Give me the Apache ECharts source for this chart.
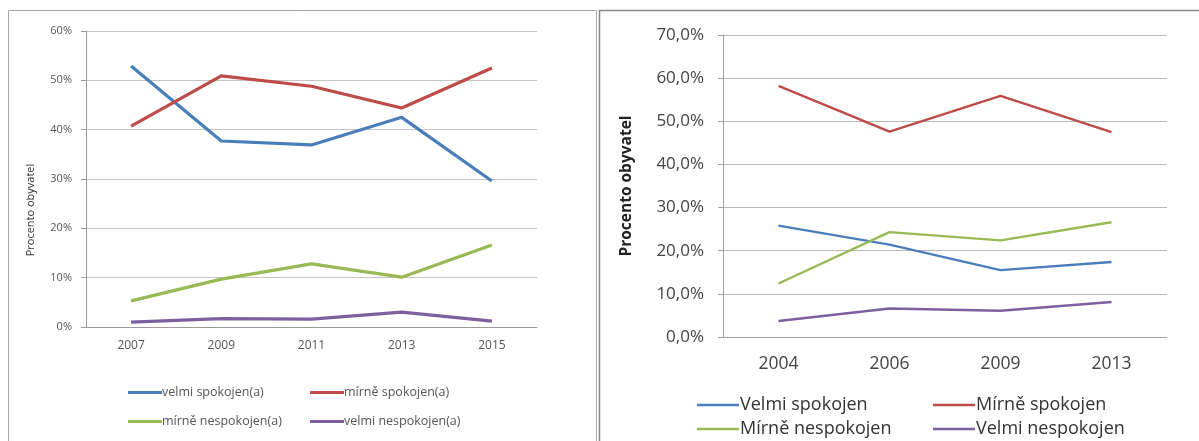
<!DOCTYPE html>
<html><head><meta charset="utf-8">
<script src="https://cdn.jsdelivr.net/npm/echarts@6/dist/echarts.min.js"></script>
<style>html,body{margin:0;padding:0;background:#fff}#c{width:1199px;height:441px}</style>
</head><body><div id="c"></div>
<script>
// Left chart data
const yearsA = ['2007','2009','2011','2013','2015'];
const namesA = ['velmi spokojen(a)','mírně spokojen(a)','mírně nespokojen(a)','velmi nespokojen(a)'];
const velmiSpokA = [52.9, 37.7, 36.9, 42.5, 29.6];
const mirneSpokA = [40.7, 50.9, 48.8, 44.4, 52.5];
const mirneNespA = [5.3, 9.7, 12.8, 10.1, 16.6];
const velmiNespA = [1.0, 1.7, 1.6, 3.0, 1.2];
const ticksA = [0, 10, 20, 30, 40, 50, 60];

// Right chart data
const yearsB = ['2004','2006','2009','2013'];
const namesB = ['Velmi spokojen','Mírně spokojen','Mírně nespokojen','Velmi nespokojen'];
const velmiSpokB = [25.8, 21.4, 15.5, 17.4];
const mirneSpokB = [58.2, 47.6, 55.9, 47.5];
const mirneNespB = [12.4, 24.3, 22.4, 26.6];
const velmiNespB = [3.7, 6.6, 6.1, 8.1];
const ticksB = [0, 10, 20, 30, 40, 50, 60, 70];

const colors = ['#4a7ebb', '#be4b48', '#98b954', '#7d60a0'];
const seriesA = [velmiSpokA, mirneSpokA, mirneNespA, velmiNespA];
const seriesB = [velmiSpokB, mirneSpokB, mirneNespB, velmiNespB];
const font = '"Open Sans", "DejaVu Sans", sans-serif';

const chart = echarts.init(document.getElementById('c'));
const series = [];
namesA.forEach((n, i) => series.push({
  name: n, type: 'line', xAxisIndex: 0, yAxisIndex: 0, data: seriesA[i],
  showSymbol: false, symbol: 'none', lineStyle: {width: 3.2, color: colors[i]}, itemStyle: {color: colors[i]}
}));
namesB.forEach((n, i) => series.push({
  name: n, type: 'line', xAxisIndex: 1, yAxisIndex: 1, data: seriesB[i],
  showSymbol: false, symbol: 'none', lineStyle: {width: 2.4, color: colors[i]}, itemStyle: {color: colors[i]}
}));

const legA = [[128, 386], [310, 386], [128, 415], [310, 415]];
const legB = [[697, 396], [933, 396], [697, 420], [933, 420]];
const legends = [];
namesA.forEach((n, i) => legends.push({
  left: legA[i][0], top: legA[i][1], data: [n], icon: 'rect', itemWidth: 34, itemHeight: 3, padding: 0,
  textStyle: {fontFamily: font, fontSize: 12.5, color: '#555', padding: [0, 0, 0, -5]}
}));
namesB.forEach((n, i) => legends.push({
  left: legB[i][0], top: legB[i][1], data: [n], icon: 'rect', itemWidth: 42, itemHeight: 2.5, padding: 0,
  textStyle: {fontFamily: font, fontSize: 18, color: '#333', padding: [0, 0, 0, -4]}
}));

chart.setOption({
  animation: false,
  backgroundColor: '#fff',
  graphic: [
    {type: 'rect', shape: {x: 8.5, y: 10.5, width: 588, height: 440}, style: {fill: 'none', stroke: '#a8a8a8', lineWidth: 1}},
    {type: 'rect', shape: {x: 599.5, y: 10.5, width: 610, height: 440}, style: {fill: 'none', stroke: '#8a8a8a', lineWidth: 1.5}},
    {type: 'text', x: 31, y: 210, rotation: Math.PI / 2,
     style: {text: 'Procento obyvatel', fontFamily: font, fontSize: 11, fontWeight: 'normal', fill: '#333',
             textAlign: 'center', textVerticalAlign: 'middle'}}
  ],
  legend: legends,
  grid: [
    {left: 86, right: 662, top: 31, bottom: 114},
    {left: 723, right: 32, top: 35, bottom: 104}
  ],
  xAxis: [
    {type: 'category', gridIndex: 0, data: yearsA, boundaryGap: true,
     axisLine: {lineStyle: {color: '#9a9a9a'}}, axisTick: {show: false},
     axisLabel: {fontFamily: font, fontSize: 12, color: '#555', margin: 13}},
    {type: 'category', gridIndex: 1, data: yearsB, boundaryGap: true,
     axisLine: {lineStyle: {color: '#a0a0a0'}}, axisTick: {show: false},
     axisLabel: {fontFamily: font, fontSize: 17.5, color: '#444', margin: 18}}
  ],
  yAxis: [
    {type: 'value', gridIndex: 0, min: ticksA[0], max: ticksA[ticksA.length - 1], interval: 10,
     axisLine: {show: true, lineStyle: {color: '#9a9a9a'}}, axisTick: {show: true, length: 5, lineStyle: {color: '#9a9a9a'}},
     splitLine: {lineStyle: {color: '#c4c4c4'}},
     axisLabel: {fontFamily: font, fontSize: 11, color: '#555', margin: 14, formatter: v => v + '%'}},
    {type: 'value', gridIndex: 1, min: ticksB[0], max: ticksB[ticksB.length - 1], interval: 10,
     name: 'Procento obyvatel', nameLocation: 'middle', nameGap: 88, nameRotate: 90,
     nameTextStyle: {fontFamily: font, fontSize: 15.5, fontWeight: 'bold', color: '#222'},
     axisLine: {show: true, lineStyle: {color: '#a0a0a0'}}, axisTick: {show: true, length: 5, lineStyle: {color: '#a0a0a0'}},
     splitLine: {lineStyle: {color: '#b8b8b8'}},
     axisLabel: {fontFamily: font, fontSize: 17, color: '#444', margin: 19,
       formatter: v => v.toFixed(1).replace('.', ',') + '%'}}
  ],
  series: series
});
</script></body></html>
